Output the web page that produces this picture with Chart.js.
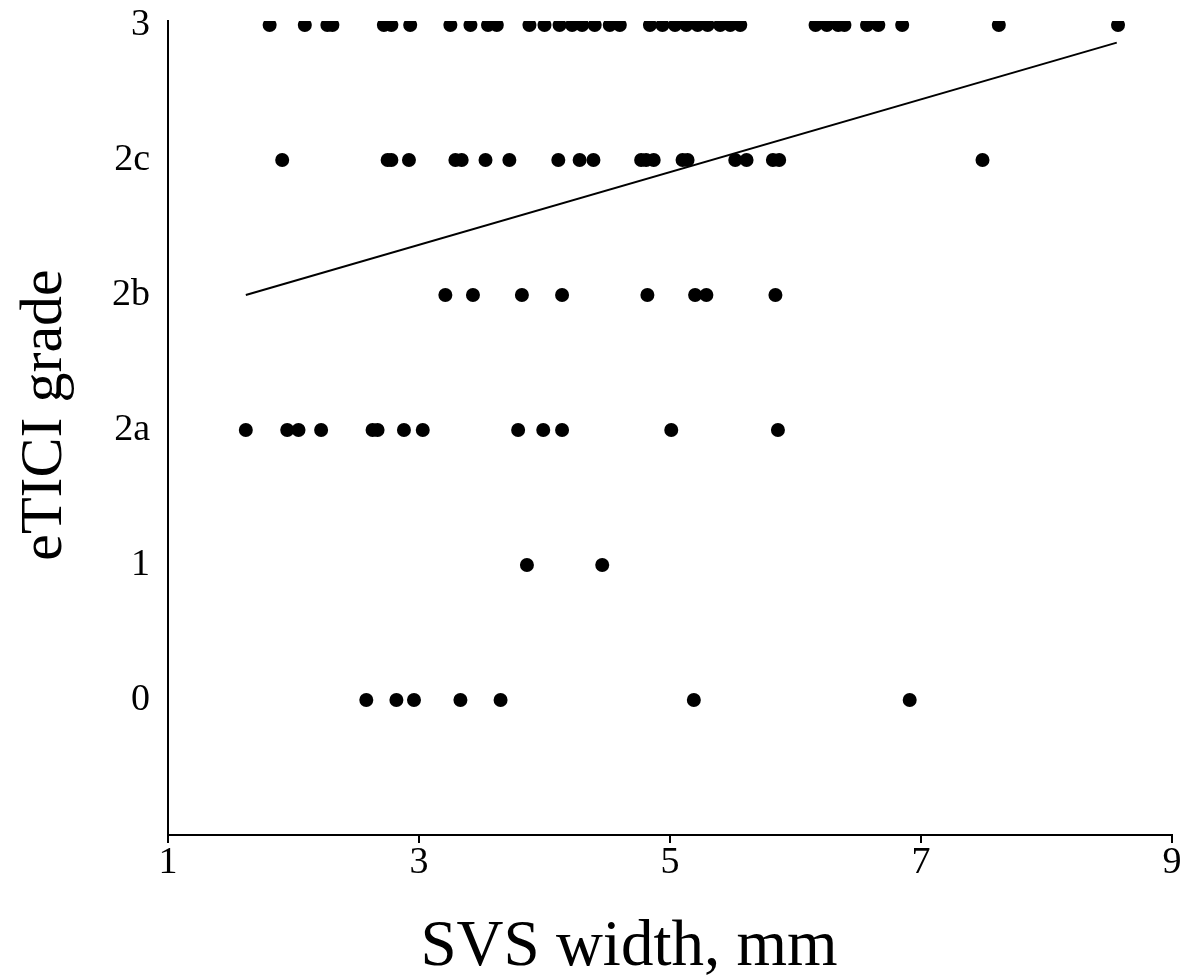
<!DOCTYPE html>
<html>
<head>
<meta charset="utf-8">
<script src="https://cdn.jsdelivr.net/npm/chart.js@4/dist/chart.umd.min.js"></script>
<style>
  html, body { margin: 0; padding: 0; background: #fff; }
  #wrap { width: 1189px; height: 978px; position: relative; }
</style>
</head>
<body>
<div id="wrap"><canvas id="chart-svs"></canvas></div>
<script>
// eTICI grade categories, bottom to top (numeric position = index)
const gradeLabels = ['0', '1', '2a', '2b', '2c', '3'];

// SVS width (mm) of each patient, grouped by eTICI grade
const svsGrade0 = [2.58, 2.82, 2.96, 3.33, 3.65, 5.19, 6.91];
const svsGrade1 = [3.86, 4.46];
const svsGrade2a = [1.62, 1.95, 2.04, 2.22, 2.63, 2.67, 2.88, 3.03, 3.79, 3.99, 4.14, 5.01, 5.86];
const svsGrade2b = [3.21, 3.43, 3.82, 4.14, 4.82, 5.20, 5.29, 5.84];
const svsGrade2c = [1.91, 2.75, 2.78, 2.92, 3.29, 3.34, 3.53, 3.72, 4.11, 4.28, 4.39,
                    4.77, 4.81, 4.87, 5.10, 5.14, 5.52, 5.61, 5.82, 5.87, 7.49];
const svsGrade3 = [1.81, 2.09, 2.27, 2.31, 2.72, 2.78, 2.93, 3.25, 3.41, 3.55, 3.62,
                   3.88, 4.00, 4.12, 4.22, 4.30, 4.40, 4.52, 4.60,
                   4.84, 4.94, 5.04, 5.13, 5.22, 5.30, 5.40, 5.48, 5.56,
                   6.16, 6.25, 6.34, 6.39, 6.57, 6.66, 6.85, 7.62, 8.57];

// linear trend line end points
const trendX = [1.62, 8.56];
const trendY = [3.0, 4.87];

const xTicks = [1, 3, 5, 7, 9];
const xTitle = 'SVS width, mm';
const yTitle = 'eTICI grade';

const serif = '"Liberation Serif", "Times New Roman", serif';

const groups = [svsGrade0, svsGrade1, svsGrade2a, svsGrade2b, svsGrade2c, svsGrade3];
let points = [];
for (let g = 0; g < groups.length; ++g) {
    for (const v of groups[g]) points.push({x: v, y: g});
}

// axis titles sit a bit off-centre in the original, so draw them by hand
const axisTitles = {
    id: 'axisTitles',
    afterDraw(chart) {
        const ctx = chart.ctx;
        ctx.save();
        ctx.fillStyle = '#000';
        ctx.textAlign = 'center';
        ctx.textBaseline = 'middle';
        ctx.font = '65px ' + serif;
        ctx.fillText(xTitle, 629, 948);
        ctx.translate(45, 415);
        ctx.rotate(-Math.PI / 2);
        ctx.font = '60px ' + serif;
        ctx.fillText(yTitle, 0, 0);
        ctx.restore();
    }
};

const data = {
    datasets: [
        {
            type: 'scatter',
            data: points,
            backgroundColor: '#000',
            borderColor: '#000',
            pointRadius: 7,
            pointHoverRadius: 7,
            borderWidth: 0
        },
        {
            type: 'line',
            data: trendX.map((x, i) => ({x: x, y: trendY[i]})),
            borderColor: '#000',
            borderWidth: 2,
            pointRadius: 0,
            fill: false
        }
    ]
};

const options = {
    responsive: true,
    maintainAspectRatio: false,
    animation: false,
    layout: { padding: { top: 21, right: 17, left: 0, bottom: 0 } },
    plugins: { legend: { display: false }, tooltip: { enabled: false } },
    scales: {
        x: {
            type: 'linear',
            min: 1,
            max: 9,
            afterFit: (s) => { s.height = 143; s.paddingLeft = 0; s.paddingRight = 0; },
            afterBuildTicks: (s) => { s.ticks = xTicks.map(v => ({value: v})); },
            grid: { display: true, drawOnChartArea: false, drawTicks: true, tickLength: 8, color: '#000', lineWidth: 2 },
            border: { display: true, color: '#000', width: 2 },
            ticks: { color: '#000', font: { family: serif, size: 38 }, padding: -3 }
        },
        y: {
            type: 'linear',
            min: -1,
            max: 5.03,
            afterFit: (s) => { s.width = 168; s.paddingTop = 0; s.paddingBottom = 0; },
            afterBuildTicks: (s) => { s.ticks = gradeLabels.map((l, i) => ({value: i})); },
            grid: { display: false, drawTicks: false },
            border: { display: true, color: '#000', width: 2 },
            ticks: {
                color: '#000',
                font: { family: serif, size: 38 },
                padding: 18,
                callback: (v) => gradeLabels[v] !== undefined ? gradeLabels[v] : ''
            }
        }
    }
};

new Chart(document.getElementById('chart-svs').getContext('2d'), { data: data, options: options, plugins: [axisTitles] });
</script>
</body>
</html>
